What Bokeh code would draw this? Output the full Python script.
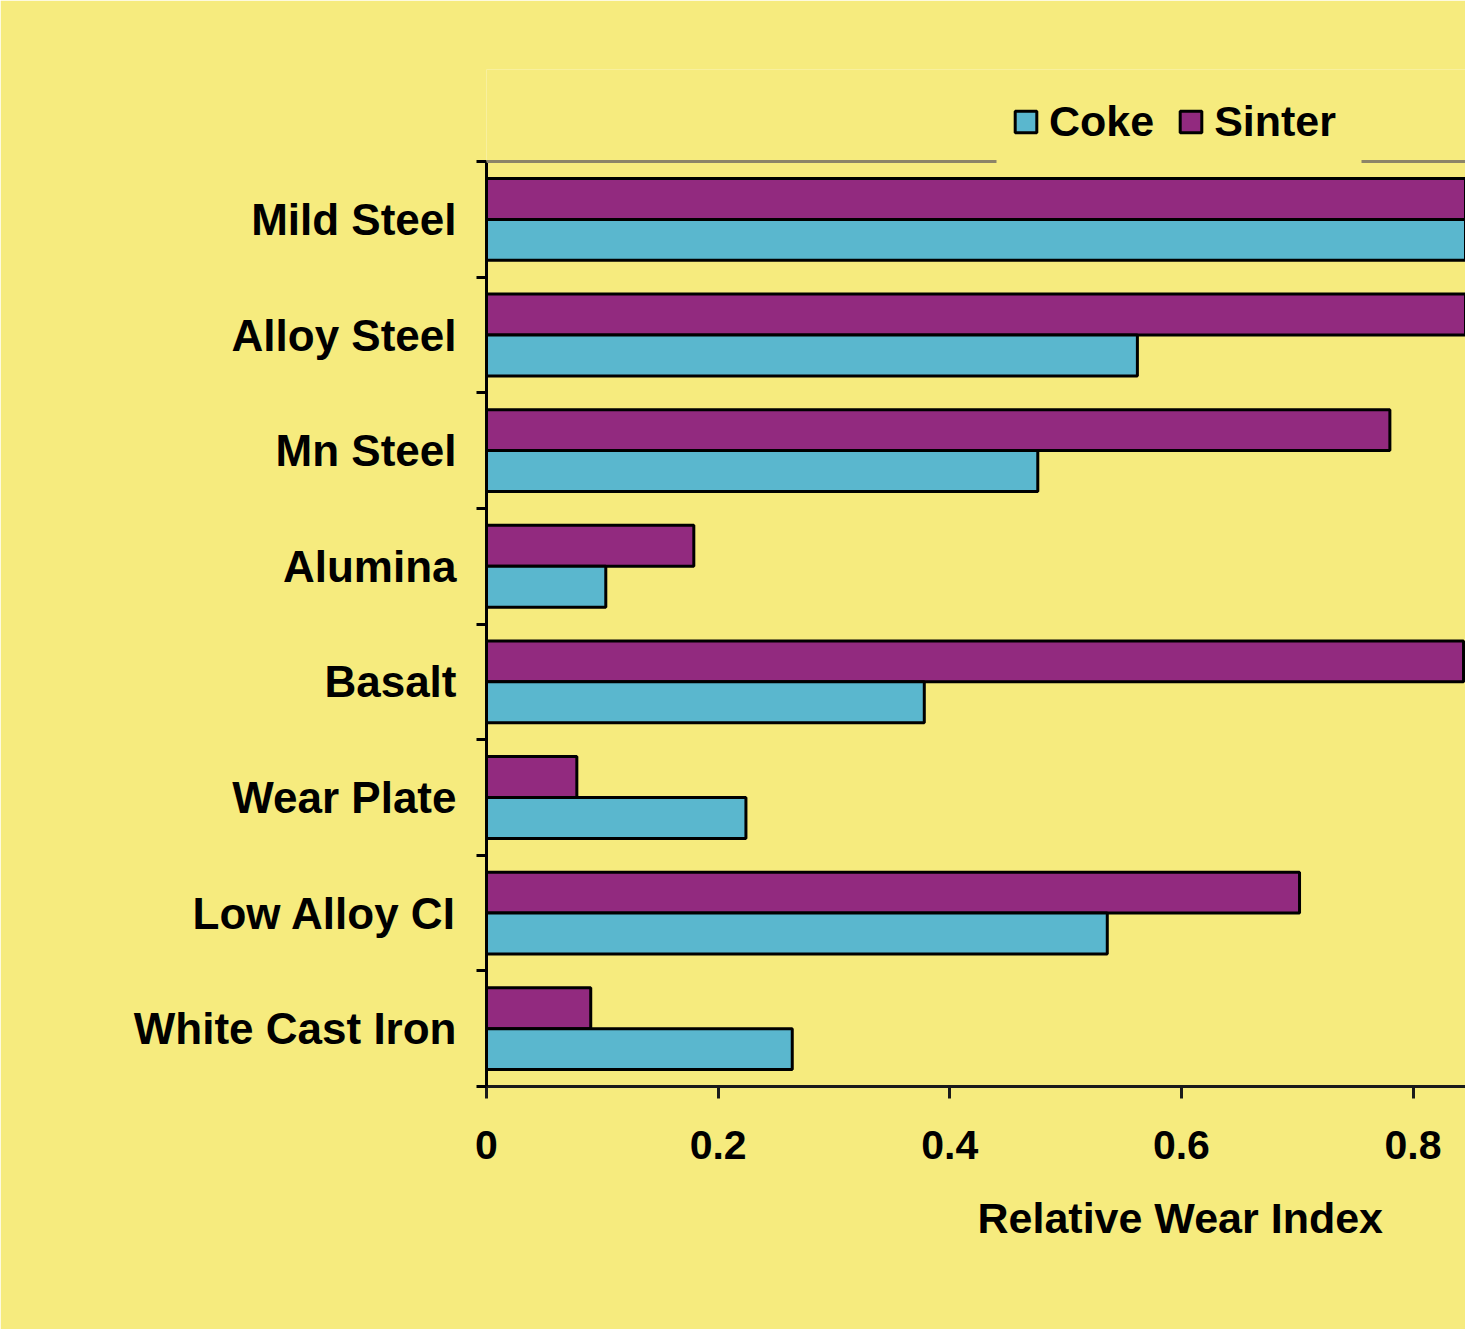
from bokeh.plotting import figure
from bokeh.models import (Range1d, FixedTicker, LinearAxis, Legend, LegendItem, Title,
                          ColumnDataSource, Span)
from bokeh.embed import file_html
from bokeh.resources import INLINE

categories = ["Mild Steel", "Alloy Steel", "Mn Steel", "Alumina", "Basalt",
              "Wear Plate", "Low Alloy CI", "White Cast Iron"]
coke = [1.0, 0.562, 0.476, 0.103, 0.378, 0.224, 0.536, 0.264]
sinter = [1.0, 0.92, 0.780, 0.179, 0.8436, 0.078, 0.702, 0.090]
x_ticks = [0, 0.2, 0.4, 0.6, 0.8]
x_tick_labels = ["0", "0.2", "0.4", "0.6", "0.8"]
x_label = "Relative Wear Index"

BG = "#F6EB7E"
COKE_C = "#5AB7CE"
SINTER_C = "#922A7F"
FONT = "Liberation Sans"

W, H = 1465, 1329
FRAME_TOP = 70          # frame extends above the plot box to hold the legend
BOX_TOP = 162           # top of the category area
FRAME_BOTTOM = 1086

n = len(categories)
row_px = (FRAME_BOTTOM - BOX_TOP) / n
y_end = (FRAME_BOTTOM - FRAME_TOP) / row_px

centers = [n - i - 0.5 for i in range(n)]
bar_h = 0.354
src = ColumnDataSource(dict(
    cat=categories,
    coke=coke,
    sinter=sinter,
    y_s=[c + 0.177 for c in centers],
    y_c=[c - 0.177 for c in centers],
))

p = figure(width=W, height=H, x_range=Range1d(0, 0.8453), y_range=Range1d(0, y_end),
           output_backend="svg", toolbar_location=None,
           x_axis_type=None, y_axis_type=None,
           min_border_left=486, min_border_top=FRAME_TOP - 1,
           min_border_bottom=H - FRAME_BOTTOM, min_border_right=0)
p.background_fill_color = BG
p.border_fill_color = BG
p.outline_line_color = None

r_s = p.hbar(y="y_s", left=0, right="sinter", height=bar_h, source=src,
             fill_color=SINTER_C, line_color="black", line_width=3)
r_c = p.hbar(y="y_c", left=0, right="coke", height=bar_h, source=src,
             fill_color=COKE_C, line_color="black", line_width=3)

# bottom axis
xa = LinearAxis(ticker=FixedTicker(ticks=x_ticks),
                major_label_overrides={t: l for t, l in zip(x_ticks, x_tick_labels)})
xa.axis_line_color = "#1a1a1a"
xa.axis_line_width = 3
xa.major_tick_line_color = "#1a1a1a"
xa.major_tick_line_width = 3
xa.major_tick_in = 0
xa.major_tick_out = 12
xa.minor_tick_line_color = None
xa.major_label_standoff = 32
xa.major_label_text_font = FONT
xa.major_label_text_font_style = "bold"
xa.major_label_text_font_size = "41px"
xa.major_label_text_color = "black"
p.add_layout(xa, "below")

# left axis: labels at category centers, ticks at category boundaries
ya = LinearAxis(ticker=FixedTicker(ticks=centers, minor_ticks=list(range(n + 1))),
                major_label_overrides={c: name for c, name in zip(centers, categories)},
                bounds=(0, n))
ya.axis_line_color = "black"
ya.axis_line_width = 3
ya.major_tick_line_color = None
ya.major_tick_in = 0
ya.major_tick_out = 0
ya.minor_tick_line_color = "black"
ya.minor_tick_line_width = 3
ya.minor_tick_in = 0
ya.minor_tick_out = 10
ya.major_label_standoff = 20
ya.major_label_text_font = FONT
ya.major_label_text_font_style = "bold"
ya.major_label_text_font_size = "44px"
ya.major_label_text_color = "black"
p.add_layout(ya, "left")

# top border line of the plot box, interrupted where the legend sits
top_line = Span(location=n, dimension="width", line_color="#8C8468", line_width=3,
                line_dash="510 365 200")
p.add_layout(top_line)

legend = Legend(items=[LegendItem(label="Coke", renderers=[r_c]),
                       LegendItem(label="Sinter", renderers=[r_s])],
                orientation="horizontal", location=(526, 940))
legend.background_fill_alpha = 0.0
legend.border_line_color = None
legend.padding = 10
legend.spacing = 23
legend.glyph_width = 27
legend.glyph_height = 27
legend.label_standoff = 10
legend.label_text_font = FONT
legend.label_text_font_style = "bold"
legend.label_text_font_size = "43px"
legend.label_text_color = "black"
legend.margin = 0
p.add_layout(legend, "center")

t = Title(text=x_label, align="left", offset=491, text_font=FONT,
          text_font_style="bold", text_font_size="43px", text_color="black", standoff=60)
p.add_layout(t, "below")

open("out.html", "w").write(file_html(p, INLINE))
